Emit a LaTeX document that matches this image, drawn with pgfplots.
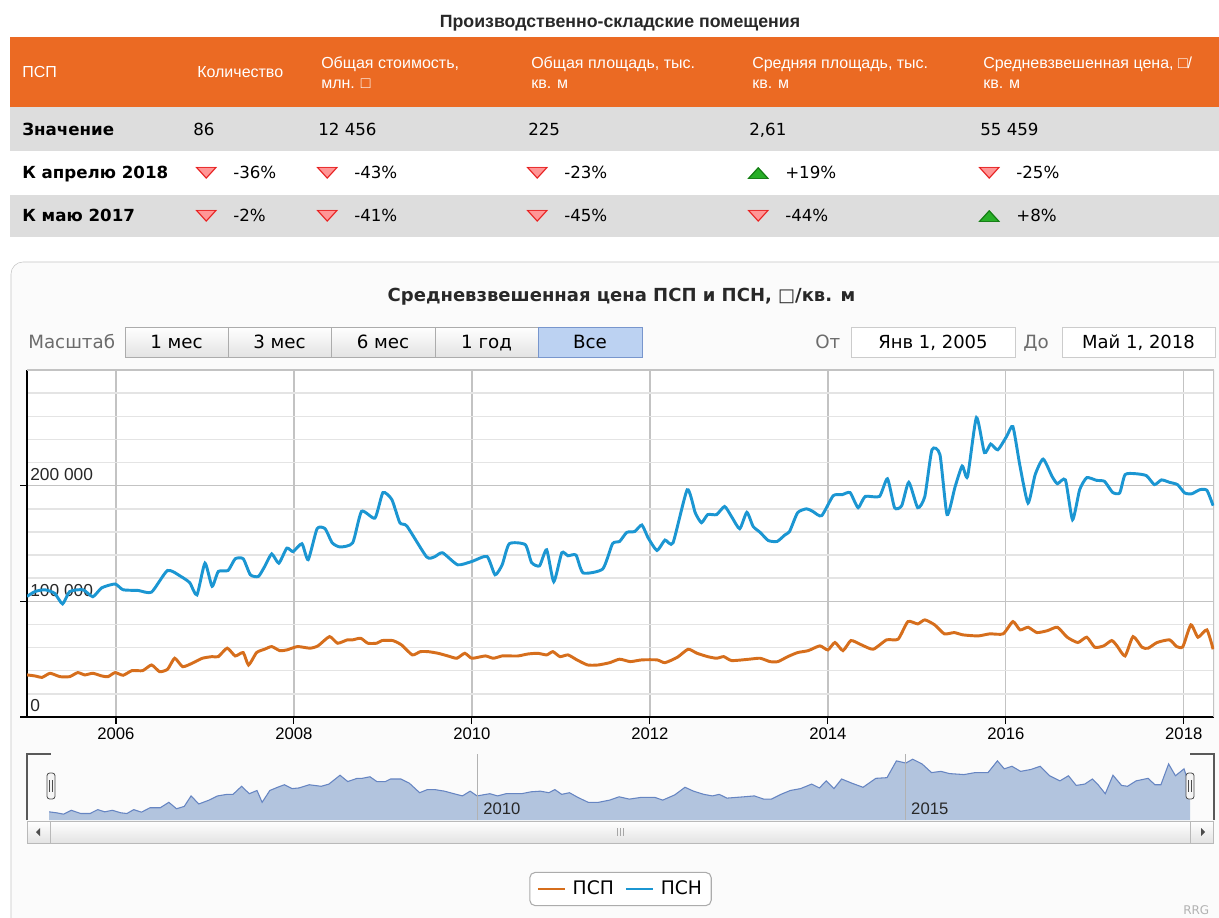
\documentclass[border=0pt]{standalone}
\usepackage{graphicx}
\usepackage{pgfplots}
\pgfplotsset{compat=1.18}
\usepackage{pgfplotstable}
\usepackage{fontspec}
\setmainfont{DejaVu Sans}
\newfontfamily\lib{Liberation Sans}
\newfontfamily\dv{DejaVu Sans}
\definecolor{psp}{RGB}{214,110,28}
\definecolor{psn}{RGB}{27,150,210}
\definecolor{hdr}{RGB}{235,106,35}
\definecolor{rowgray}{RGB}{221,221,221}
\definecolor{navfill}{RGB}{178,196,222}
\definecolor{navline}{RGB}{102,133,194}
\definecolor{gridmaj}{RGB}{195,195,195}
\definecolor{gridmin}{RGB}{228,228,228}
\definecolor{txt}{RGB}{40,40,40}
\definecolor{dnfill}{RGB}{255,150,150}
\definecolor{dnline}{RGB}{230,30,30}
\definecolor{upfill}{RGB}{40,175,40}
\definecolor{upline}{RGB}{20,120,20}
\definecolor{selfill}{RGB}{188,210,242}
\definecolor{selline}{RGB}{120,150,205}
\newcommand\fs[1]{\fontsize{#1}{#1}\selectfont}
\newcommand\dn{{\dv\fs{13pt}\scalebox{1.65}[0.9]{\rlap{\textcolor{dnfill}{▼}}\textcolor{dnline}{▽}}}}
\newcommand\up{{\dv\fs{13pt}\scalebox{1.65}[0.9]{\rlap{\textcolor{upfill}{▲}}\textcolor{upline}{△}}}}

\pgfplotstableread{
x y
2005.00 36400
2005.09 35500
2005.17 34300
2005.26 37800
2005.37 34900
2005.48 34900
2005.57 38400
2005.65 36400
2005.74 37800
2005.84 35500
2005.91 34900
2005.99 38400
2006.08 36100
2006.18 40100
2006.30 40100
2006.40 45000
2006.49 39200
2006.58 41300
2006.66 50800
2006.75 43500
2006.87 47000
2006.97 50800
2007.08 52200
2007.15 52200
2007.25 59500
2007.34 52800
2007.43 55700
2007.49 45000
2007.58 55700
2007.67 58600
2007.75 60900
2007.84 57400
2007.92 58000
2008.04 60900
2008.18 59500
2008.27 61500
2008.40 69500
2008.49 63800
2008.60 66700
2008.66 66700
2008.75 68100
2008.83 63800
2008.93 63800
2008.99 66100
2009.11 66100
2009.21 62300
2009.33 53700
2009.42 56500
2009.51 56500
2009.62 55100
2009.73 52800
2009.83 50800
2009.92 55100
2010.00 50800
2010.15 52800
2010.24 50800
2010.34 52800
2010.43 52800
2010.52 52800
2010.63 54500
2010.74 55100
2010.84 53700
2010.91 56500
2010.99 52200
2011.08 53700
2011.18 49400
2011.30 45000
2011.42 45000
2011.55 47000
2011.66 50000
2011.78 47900
2011.91 49400
2012.08 49400
2012.17 47000
2012.31 51700
2012.43 58600
2012.53 55100
2012.65 52200
2012.75 50800
2012.83 52200
2012.92 48800
2013.12 50000
2013.24 50800
2013.35 47900
2013.44 47900
2013.55 52200
2013.66 55700
2013.78 57400
2013.91 61500
2014.00 58000
2014.08 64400
2014.17 57400
2014.26 66100
2014.38 62300
2014.51 58600
2014.66 66700
2014.79 67300
2014.90 82500
2015.01 80500
2015.09 84000
2015.20 79700
2015.31 71900
2015.42 73000
2015.52 71000
2015.69 70100
2015.82 71900
2015.97 71900
2016.08 82500
2016.16 75300
2016.25 77600
2016.35 73000
2016.47 74700
2016.58 77600
2016.69 69000
2016.81 64400
2016.91 69000
2017.00 60300
2017.10 61500
2017.19 66100
2017.25 61500
2017.34 52800
2017.43 69500
2017.53 60300
2017.60 59500
2017.70 64400
2017.84 66700
2017.92 60900
2017.99 60900
2018.08 79700
2018.16 69000
2018.26 75300
2018.33 58600
}\psp

\pgfplotstableread{
x y
2005.00 104200
2005.09 108500
2005.20 110000
2005.31 107000
2005.40 97800
2005.48 108500
2005.63 110000
2005.74 104000
2005.84 111700
2005.99 115000
2006.08 110000
2006.25 109400
2006.40 108000
2006.58 126700
2006.74 121000
2006.83 116000
2006.91 105600
2007.00 133000
2007.08 113000
2007.15 125800
2007.26 126700
2007.34 136800
2007.43 136800
2007.51 123000
2007.60 121500
2007.67 130000
2007.75 141000
2007.83 133000
2007.92 146000
2007.99 143000
2008.09 149800
2008.16 136000
2008.26 162800
2008.35 162800
2008.43 150600
2008.52 147000
2008.66 150600
2008.76 177800
2008.91 172000
2009.00 194000
2009.10 188000
2009.19 168000
2009.27 165000
2009.49 138500
2009.58 138500
2009.67 142000
2009.84 131600
2010.00 134500
2010.17 138800
2010.26 123000
2010.34 131600
2010.42 149800
2010.60 149000
2010.67 133600
2010.76 130700
2010.84 144600
2010.92 117000
2011.01 142000
2011.08 139400
2011.17 140000
2011.25 124600
2011.47 128000
2011.58 149800
2011.66 151800
2011.74 159600
2011.83 160400
2011.91 166000
2011.98 155000
2012.08 144000
2012.17 153000
2012.26 150600
2012.42 196500
2012.51 176600
2012.58 168000
2012.65 175000
2012.75 175000
2012.84 182000
2012.92 173000
2013.01 162800
2013.09 177000
2013.16 164800
2013.24 159600
2013.33 152600
2013.43 151800
2013.52 157600
2013.57 160400
2013.66 176600
2013.76 180000
2013.83 177800
2013.93 174000
2014.06 191300
2014.16 192200
2014.25 194000
2014.34 181000
2014.42 190700
2014.58 190700
2014.67 206000
2014.75 181000
2014.83 182700
2014.91 202900
2015.01 181000
2015.09 190700
2015.17 231000
2015.26 226800
2015.34 175000
2015.43 199000
2015.51 217000
2015.57 207800
2015.67 258900
2015.76 228600
2015.83 236000
2015.91 231000
2016.01 242700
2016.08 251000
2016.16 216700
2016.25 185000
2016.33 209500
2016.42 223000
2016.52 208000
2016.58 201700
2016.67 205000
2016.75 170600
2016.83 196500
2016.91 206900
2017.02 204600
2017.11 203700
2017.20 194200
2017.28 193700
2017.34 209500
2017.45 210400
2017.58 208700
2017.67 200900
2017.75 205000
2017.84 202900
2017.93 200900
2018.01 193700
2018.09 193000
2018.18 196500
2018.26 196000
2018.33 182700
}\psn

\begin{document}
\begin{tikzpicture}[x=0.75pt,y=-0.75pt]
\useasboundingbox (0,0) rectangle (1219,917);
\fill[white] (0,0) rectangle (1219,917);
% ---------- table ----------
\node[anchor=base, inner sep=0, text=txt] at (620,28) {\lib\bfseries\fs{13.3pt}Производственно-складские помещения};
\fill[hdr] (10,37) rectangle (1219,107);
\fill[rowgray] (10,107) rectangle (1219,150.5);
\fill[white] (10,151.5) rectangle (1219,193.5);
\fill[rowgray] (10,194.5) rectangle (1219,237);
\begin{scope}[every node/.style={anchor=base west, inner sep=0, text=white, font=\lib\fs{12pt}}]
\node at (22,78) {ПСП};
\node at (197,78) {Количество};
\node at (321,69) {Общая стоимость,};
\node at (321,89) {млн. □};
\node at (531,69) {Общая площадь, тыс.};
\node at (531,89) {кв. м};
\node at (752,69) {Средняя площадь, тыс.};
\node at (752,89) {кв. м};
\node at (983,69) {Средневзвешенная цена, □/};
\node at (983,89) {кв. м};
\end{scope}
\begin{scope}[every node/.style={anchor=base west, inner sep=0, text=black, font=\dv\fs{12.5pt}}]
\node[font=\dv\bfseries\fs{12.5pt}] at (22,135.5) {Значение};
\node at (193,135.5) {86};
\node at (318,135.5) {12 456};
\node at (528,135.5) {225};
\node at (749,135.5) {2,61};
\node at (980,135.5) {55 459};
\node[font=\dv\bfseries\fs{12.5pt}] at (22,178.5) {К апрелю 2018};
\node at (233,178.5) {-36\%};
\node at (354,178.5) {-43\%};
\node at (564,178.5) {-23\%};
\node at (785,178.5) {+19\%};
\node at (1016,178.5) {-25\%};
\node[font=\dv\bfseries\fs{12.5pt}] at (22,221.5) {К маю 2017};
\node at (233,221.5) {-2\%};
\node at (354,221.5) {-41\%};
\node at (564,221.5) {-45\%};
\node at (785,221.5) {-44\%};
\node at (1016,221.5) {+8\%};
\end{scope}
\begin{scope}[every node/.style={anchor=west, inner sep=0}]
\node at (195,173) {\dn}; \node at (316,173) {\dn}; \node at (526,173) {\dn};
\node at (747,173) {\up}; \node at (978,173) {\dn};
\node at (195,216) {\dn}; \node at (316,216) {\dn}; \node at (526,216) {\dn};
\node at (747,216) {\dn}; \node at (978,216) {\up};
\end{scope}
% ---------- chart panel ----------
\draw[gray!45, fill=gray!3, rounded corners=9pt] (11,262) rectangle (1240,960);
\node[anchor=base, inner sep=0, text=txt] at (621.5,301.5) {\dv\bfseries\fs{13.5pt}Средневзвешенная цена ПСП и ПСН, □/кв. м};
\node[anchor=base west, inner sep=0, text=gray!85!black] at (28,348) {\dv\fs{13.7pt}Масштаб};
\foreach \a/\b/\t in {125/228/1 мес, 228/331/3 мес, 331/435/6 мес, 435/538/1 год}{
  \draw[gray!65, top color=white, bottom color=gray!22] (\a,327) rectangle (\b,357);
  \node[anchor=base, inner sep=0, text=black] at ({(\a+\b)/2},348) {\dv\fs{13.7pt}\t};
}
\draw[selline, fill=selfill] (538,327) rectangle (642,357);
\node[anchor=base, inner sep=0, text=black] at (590,348) {\dv\fs{13.7pt}Все};
\node[anchor=base west, inner sep=0, text=gray!85!black] at (815,348) {\dv\fs{13.7pt}От};
\draw[gray!40, fill=white] (851,327) rectangle (1015,357);
\node[anchor=base, inner sep=0, text=black] at (933,348) {\dv\fs{13.5pt}Янв 1, 2005};
\node[anchor=base west, inner sep=0, text=gray!85!black] at (1023,348) {\dv\fs{13.7pt}До};
\draw[gray!40, fill=white] (1062,327) rectangle (1215,357);
\node[anchor=base, inner sep=0, text=black] at (1138.5,348) {\dv\fs{13.5pt}Май 1, 2018};
% ---------- main axis ----------
\begin{axis}[
  at={(20.25pt,-537.75pt)}, anchor=south west,
  scale only axis, width=890.25pt, height=260.25pt,
  xmin=2005, xmax=2018.34, ymin=0, ymax=300000,
  axis background/.style={fill=white},
  axis x line*=bottom, axis y line*=left,
  axis line style={black, line width=1pt, -},
  tick align=outside, major tick length=5.25pt, minor tick length=0pt,
  tick style={black, line width=0.8pt},
  xtick={2006,2008,...,2018},
  ytick={0,100000,200000},
  minor ytick={20000,40000,...,280000},
  extra y ticks={300000}, extra y tick labels={},
  extra y tick style={major tick length=0pt},
  scaled y ticks=false,
  /pgf/number format/fixed, /pgf/number format/precision=0,
  /pgf/number format/assume math mode=true,
  /pgf/number format/1000 sep={\ },
  x tick label style={/pgf/number format/1000 sep={}, inner sep=0pt, yshift=-2.5pt, font=\lib\fs{12.5pt}, text=black},
  y tick label style={anchor=south west, inner sep=0pt, xshift=7.5pt, yshift=3.5pt, font=\lib\fs{13pt}, text=txt},
  xmajorgrids, ymajorgrids, yminorgrids,
  major x grid style={gridmaj, line width=1pt},
  major y grid style={gridmaj, line width=1.1pt},
  minor y grid style={gridmin, line width=1.1pt},
  legend columns=2,
  legend style={at={(0.5,-0.4957)}, anchor=center, draw=gray!65, line width=0.8pt, rounded corners=4pt, fill=white,
    font=\dv\fs{14pt}, inner xsep=5pt, inner ysep=4.5pt, column sep=3pt,
    /tikz/every even column/.append style={column sep=6pt}},
  legend image code/.code={\draw[#1, line width=2.2pt] (0pt,0pt) -- (20pt,0pt);},
]
\draw[gridmaj, line width=1pt] (rel axis cs:1,0) -- (rel axis cs:1,1);
\addplot[psp, line width=2.2pt, smooth, tension=0.35] table {\psp};
\addlegendentry{ПСП}
\addplot[psn, line width=2.2pt, smooth, tension=0.35] table {\psn};
\addlegendentry{ПСН}
\end{axis}
% ---------- navigator ----------
\begin{axis}[
  at={(36.75pt,-615pt)}, anchor=south west,
  scale only axis, width=855.75pt, height=49.5pt,
  xmin=2005, xmax=2018.33, ymin=29000, ymax=88700,
  axis line style={draw=none}, ytick=\empty, xtick={2010,2015}, xticklabels={2010,2015},
  major tick length=0pt, xmajorgrids, axis on top,
  major x grid style={gray!60, line width=0.6pt},
  x tick label style={anchor=south west, inner sep=0pt, xshift=4.5pt, yshift=3.8pt, font=\lib\fs{12.5pt}, text=txt},
]
\addplot[fill=navfill, draw=none] table {\psp} \closedcycle;
\addplot[navline, line width=0.8pt] table {\psp};
\end{axis}
% navigator outline and handles
\draw[gray!70!black, line width=0.8pt] (27,820) -- (27,754) -- (51,754);
\draw[gray!70!black, line width=0.8pt] (1190,754) -- (1214,754) -- (1214,820);
\foreach \hx in {51,1190}{
  \draw[gray!60!black, fill=gray!8, rounded corners=2pt, line width=0.6pt] (\hx-4,773) rectangle (\hx+4,799);
  \draw[gray!60!black, line width=0.5pt] (\hx-1.2,780) -- (\hx-1.2,792) (\hx+1.2,780) -- (\hx+1.2,792);
}
% scrollbar
\draw[gray!55, fill=gray!12] (27,821) rectangle (1213,843);
\draw[gray!55, top color=white, bottom color=gray!22] (50,821) rectangle (1190,843);
\draw[gray!55, top color=white, bottom color=gray!22] (27,821) rectangle (50,843);
\draw[gray!55, top color=white, bottom color=gray!22] (1190,821) rectangle (1213,843);
\fill[gray!60!black] (36,832) -- (40,828) -- (40,836) -- cycle;
\fill[gray!60!black] (1205,832) -- (1201,828) -- (1201,836) -- cycle;
\draw[gray!70, line width=0.6pt] (617,828) -- (617,836) (620,828) -- (620,836) (623,828) -- (623,836);
\node[anchor=base west, inner sep=0, text=gray!60] at (1183,914.5) {\dv\fs{9pt}RRG};
\end{tikzpicture}
\end{document}
